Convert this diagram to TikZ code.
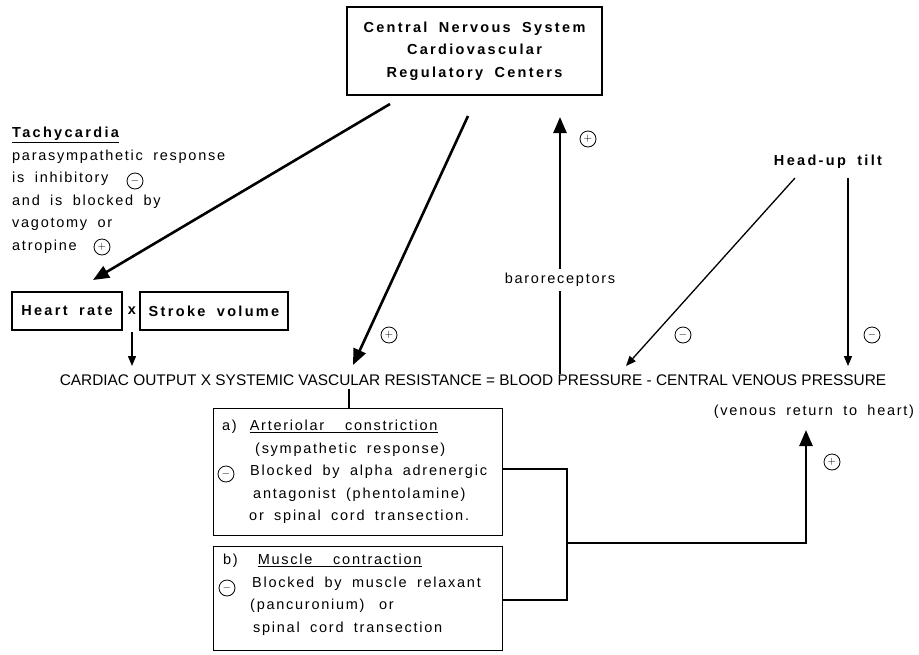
\documentclass[tikz,border=0pt]{standalone}
\usepackage{fontspec}
\setmainfont{Liberation Sans}[LetterSpace=12,WordSpace=1.8]
\newfontfamily\boldwide{Liberation Sans Bold}[LetterSpace=16,WordSpace=1.8]
\newfontfamily\eqfont{Liberation Sans}
\usetikzlibrary{arrows.meta}

\begin{document}
\begin{tikzpicture}[x=1pt,y=-1pt,
  thickline/.style={line width=2.6pt},
  thinline/.style={line width=1.3pt},
  bigtip/.style={-{Triangle[length=16pt,width=13pt]}},
  smalltip/.style={-{Triangle[length=10pt,width=8pt]}},
  sign/.style={circle,draw,line width=0.8pt,inner sep=0pt,minimum size=16pt,font=\eqfont\fontsize{11}{11}\selectfont},
  lbl/.style={font=\fontsize{14.5}{22.5}\selectfont,inner sep=0pt},
  bld/.style={font=\boldwide\fontsize{14.5}{22.5}\selectfont},
  boxtxt/.style={lbl,align=left,anchor=north west}]

\useasboundingbox (0,0) rectangle (919,654);

\node[draw,thinline,minimum width=255,minimum height=88,align=center,bld] (cns) at (474.5,51)
  {Central Nervous System\\Cardiovascular\\Regulatory Centers};

\node[boxtxt] (tachy) at (12,127)
  {{\boldwide\underline{Tachycardia}}\\parasympathetic response\\is inhibitory\\and is blocked by\\vagotomy or\\atropine};
\node[sign] (s1) at (135,181) {$-$};
\node[sign] (s2) at (102,247) {$+$};

\node[draw,thinline,minimum width=110,minimum height=38,bld] (hr) at (67,311) {Heart rate};
\node[bld,inner sep=0pt] (times) at (132,311) {x};
\node[draw,thinline,minimum width=148,minimum height=38,bld] (sv) at (214,311) {Stroke volume};

\node[bld,inner sep=0pt] (tilt) at (828,162) {Head-up tilt};

\node[inner sep=0pt,font=\eqfont\fontsize{15.4}{15.4}\selectfont] (eq) at (473,380)
  {CARDIAC OUTPUT X SYSTEMIC VASCULAR RESISTANCE = BLOOD PRESSURE - CENTRAL VENOUS PRESSURE};

\node[lbl] (baro) at (560,280) {baroreceptors};
\node[lbl] (venous) at (814,412) {(venous return to heart)};

% arrows from the centers
\coordinate (c1) at (390,104);
\coordinate (c2) at (468,116);
\coordinate (t1) at (93,280);
\coordinate (t2) at (353,365);
\draw[thickline,bigtip] (c1) -- (t1);
\draw[thickline,bigtip] (c2) -- (t2);
\node[sign] (s3) at (389,335) {$+$};

% baroreceptor feedback
\draw[thickline] (eq.north -| baro) -- ([yshift=-4pt]baro.south);
\draw[thickline,bigtip] ([yshift=4pt]baro.north) -- (560,117);
\node[sign] (s4) at (588,139) {$+$};

% head-up tilt
\coordinate (h1) at (795,178);
\coordinate (h2) at (848,178);
\draw[thinline,smalltip] (h1) -- (626,366);
\draw[thinline,smalltip] (h2) -- (848,366);
\node[sign] (s5) at (683,335) {$-$};
\node[sign] (s6) at (872,335) {$-$};

% cardiac output
\coordinate (x1) at (132,332);
\draw[thinline,smalltip] (x1) -- (132,366);

% effector boxes
\node[draw,thinline,minimum width=289,minimum height=127,anchor=north west] (art) at (213,408) {};
\node[boxtxt] (arttxt) at (222,420)
  {a)\hspace{13pt}\underline{Arteriolar\ \ constriction}\\
   \hspace*{33pt}(sympathetic response)\\
   \hspace*{28pt}Blocked by alpha adrenergic\\
   \hspace*{31pt}antagonist (phentolamine)\\
   \hspace*{27pt}or spinal cord transection.};
\node[sign] (s7) at (226,474) {$-$};

\node[draw,thinline,minimum width=289,minimum height=104,anchor=north west] (mus) at (213,546) {};
\node[boxtxt] (mustxt) at (223,554)
  {b)\hspace{20pt}\underline{Muscle\ \ contraction}\\
   \hspace*{29pt}Blocked by muscle relaxant\\
   \hspace*{27pt}(pancuronium)\quad or\\
   \hspace*{30pt}spinal cord transection};
\node[sign] (s8) at (227,588) {$-$};

\coordinate (v1) at (349,389);
\draw[thinline] (v1) -- (art.north -| v1);

% venous return bracket
\coordinate (j1) at (567,469);
\coordinate (j2) at (567,600);
\coordinate (j3) at (567,543);
\coordinate (vr) at (806,430);
\draw[thickline] (art.east |- j1) -- (j1) -- (j2) -- (mus.east |- j2);
\draw[thickline,bigtip] (j3) -| (vr);
\node[sign] (s9) at (832,462) {$+$};

\end{tikzpicture}
\end{document}
